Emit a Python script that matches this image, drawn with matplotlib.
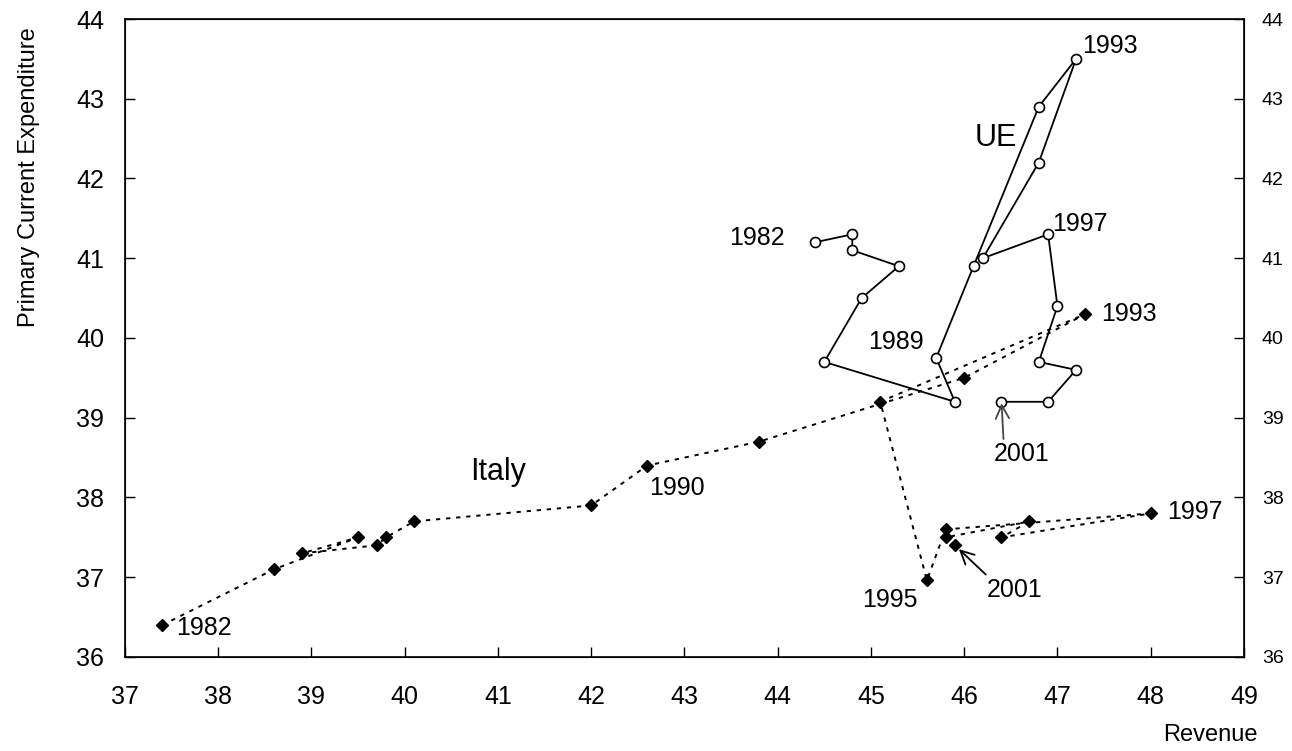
import matplotlib.pyplot as plt

plt.rcParams['font.family'] = ['Liberation Sans', 'DejaVu Sans']

# Italy: revenue vs primary current expenditure (% of GDP), 1982-2001
italy_rev = [37.4, 38.6, 39.5, 38.9, 39.7, 39.8, 40.1, 42.0, 42.6, 43.8,
             46.0, 47.3, 45.1, 45.6, 45.8, 48.0, 46.4, 46.7, 45.8, 45.9]
italy_exp = [36.4, 37.1, 37.5, 37.3, 37.4, 37.5, 37.7, 37.9, 38.4, 38.7,
             39.5, 40.3, 39.2, 36.96, 37.6, 37.8, 37.5, 37.7, 37.5, 37.4]

# UE path
ue_rev = [44.4, 44.8, 44.8, 45.3, 44.9, 44.5, 45.9, 45.7, 46.1, 46.8,
          47.2, 46.8, 46.2, 46.9, 47.0, 46.8, 47.2, 46.9, 46.4]
ue_exp = [41.2, 41.3, 41.1, 40.9, 40.5, 39.7, 39.2, 39.75, 40.9, 42.9,
          43.5, 42.2, 41.0, 41.3, 40.4, 39.7, 39.6, 39.2, 39.2]

x_ticks = list(range(37, 50))
y_ticks = list(range(36, 45))

fig = plt.figure(figsize=(12.92, 7.51), dpi=100)
ax = fig.add_axes([0.0967, 0.1252, 0.8661, 0.8495])

# UE: solid line, open circles
ax.plot(ue_rev, ue_exp, color='black', lw=1.3, marker='o', ms=7.2,
        mfc='white', mec='black', mew=1.2, zorder=3)

# Italy: dotted line, black diamonds
ax.plot(italy_rev, italy_exp, color='black', lw=1.4, ls=(0, (2.2, 3)),
        marker='D', ms=5.8, mfc='black', mec='black', zorder=4)

ax.set_xlim(37, 49)
ax.set_ylim(36, 44)
ax.set_xticks(x_ticks)
ax.set_yticks(y_ticks)
ax.tick_params(axis='both', direction='in', length=7, width=1, labelsize=18)
ax.tick_params(axis='y', pad=15)
ax.tick_params(axis='x', pad=20)
for s in ax.spines.values():
    s.set_linewidth(1.2)

ax2 = ax.twinx()
ax2.set_ylim(36, 44)
ax2.set_yticks(y_ticks)
ax2.tick_params(axis='y', direction='in', length=7, width=1, labelsize=14, pad=13)

ax.set_xlabel('Revenue', fontsize=17, ha='right', va='center')
ax.xaxis.set_label_coords(1.012, -0.122)
ax.set_ylabel('Primary Current Expenditure', fontsize=17, ha='center', va='center')
ax.yaxis.set_label_coords(-0.0858, 0.752)

fs = 18
k = 0.72  # px -> pt at 100 dpi


def tag(text, i, xs, ys, dx, dy, ha='left'):
    ax.annotate(text, (xs[i], ys[i]), xytext=(dx * k, dy * k),
                textcoords='offset points', fontsize=fs, ha=ha, va='center')


# UE year tags
tag('1982', 0, ue_rev, ue_exp, -30, 4, ha='right')
tag('1989', 7, ue_rev, ue_exp, -12, 16, ha='right')
tag('1993', 10, ue_rev, ue_exp, 6, 13)
tag('1997', 13, ue_rev, ue_exp, 4, 10)
ax.annotate('2001', (ue_rev[18], ue_exp[18]), xytext=(20 * k, -52 * k),
            textcoords='offset points', fontsize=fs, ha='center', va='center',
            arrowprops=dict(arrowstyle='->', color='#444444', lw=1.3,
                            relpos=(0.18, 1.0), shrinkA=0, shrinkB=1,
                            mutation_scale=24))

# Italy year tags
tag('1982', 0, italy_rev, italy_exp, 14, -3)
tag('1990', 8, italy_rev, italy_exp, 2, -22)
tag('1993', 11, italy_rev, italy_exp, 16, 0)
tag('1995', 13, italy_rev, italy_exp, -9, -20, ha='right')
tag('1997', 15, italy_rev, italy_exp, 16, 1)
ax.annotate('2001', (italy_rev[19], italy_exp[19]), xytext=(60 * k, -45 * k),
            textcoords='offset points', fontsize=fs, ha='center', va='center',
            arrowprops=dict(arrowstyle='->', color='black', lw=1.3,
                            relpos=(0.05, 1.0), shrinkA=1, shrinkB=4,
                            mutation_scale=24))

ax.text(46.34, 42.51, 'UE', fontsize=22, ha='center', va='center')
ax.text(41.0, 38.32, 'Italy', fontsize=22, ha='center', va='center')

fig.savefig('out.png', dpi=100)
